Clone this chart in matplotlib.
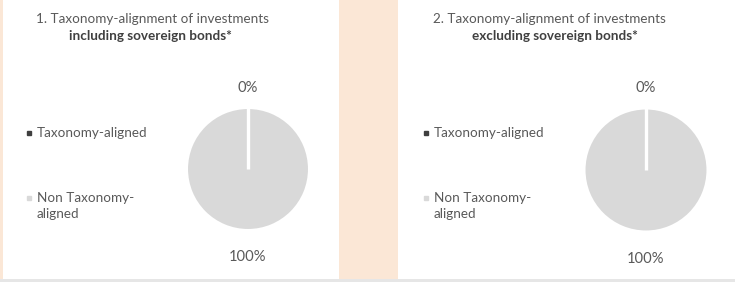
import matplotlib
matplotlib.use("Agg")
import numpy as np
import matplotlib.pyplot as plt
from matplotlib.patches import Rectangle
from matplotlib.lines import Line2D

W, H = 735, 282
categories = ["Taxonomy-aligned", "Non Taxonomy-\naligned"]
incl_values = [0, 100]
excl_values = [0, 100]
pct_labels_incl = ["0%", "100%"]
pct_labels_excl = ["0%", "100%"]
titles = [("1. Taxonomy-alignment of investments", "including sovereign bonds*"),
          ("2. Taxonomy-alignment of investments", "excluding sovereign bonds*")]
colors = ["#3F3F3F", "#D9D9D9"]
text_color = "#595959"
FS = 9.7

plt.rcParams['font.family'] = ['Lato', 'DejaVu Sans']

fig = plt.figure(figsize=(W / 100, H / 100), dpi=100)
fig.patch.set_facecolor("#FBE7D6")

def px(x0, y0, w, h):
    return (x0 / W, 1 - (y0 + h) / H, w / W, h / H)

# white panels
for (x0, x1) in [(3, 339), (398, 735)]:
    l, b, w, h = px(x0, 0, x1 - x0, 279)
    fig.patches.append(Rectangle((l, b), w, h, transform=fig.transFigure,
                                 facecolor="white", edgecolor="none", zorder=-5))
l, b, w, h = px(0, 279, 735, 3)
fig.patches.append(Rectangle((l, b), w, h, transform=fig.transFigure,
                             facecolor="#E6E6E6", edgecolor="none", zorder=-5))

panels = [
    dict(values=incl_values, labels=pct_labels_incl, cx=248, cy=169, r=61.5,
         title_x=152, bold_x=150, leg_x=29),
    dict(values=excl_values, labels=pct_labels_excl, cx=646, cy=170, r=62,
         title_x=549, bold_x=555, leg_x=426),
]

for i, p in enumerate(panels):
    size = 3 * p["r"]
    ax = fig.add_axes(px(p["cx"] - size / 2, p["cy"] - size / 2, size, size))
    ax.patch.set_visible(False)
    wedges, texts = ax.pie(p["values"], labels=p["labels"], colors=colors,
                           startangle=90, counterclock=False, labeldistance=1.36,
                           wedgeprops=dict(edgecolor="white", linewidth=2.2),
                           textprops=dict(color=text_color, fontsize=10.6))
    # slice boundaries (white separators), from data
    vals = np.asarray(p["values"], dtype=float)
    bounds = np.concatenate([[0], np.cumsum(vals)]) / vals.sum()
    for fr in np.unique(np.round(bounds % 1.0, 9)):
        ang = np.deg2rad(90 - 360 * fr)
        ax.plot([0, np.cos(ang) * 1.02], [0, np.sin(ang) * 1.02], color="white",
                lw=2.4, solid_capstyle="butt", zorder=5)
    for t, yd in zip(texts, [1.32, -1.43]):
        t.set_ha("center")
        t.set_va("center")
        t.set_position((0, yd))
    ax.set_xlim(-1.5, 1.5)
    ax.set_ylim(-1.5, 1.5)
    ax.set_aspect("equal")
    ax.axis("off")

    t1, t2 = titles[i]
    fig.text(p["title_x"] / W, 1 - 19 / H, t1, ha="center", va="center",
             color=text_color, fontsize=FS)
    fig.text(p["bold_x"] / W, 1 - 36 / H, t2, ha="center", va="center",
             color="#404040", fontsize=FS, fontweight="bold")

    # legend
    for c, lab, yy in zip(colors, categories, [133, 198]):
        fig.add_artist(Line2D([p["leg_x"] / W], [1 - yy / H], marker="s",
                              markersize=3.5, color=c, linestyle="none",
                              transform=fig.transFigure))
        fig.text((p["leg_x"] + 8) / W, 1 - (yy - 6.5) / H, lab, ha="left", va="top",
                 color=text_color, fontsize=FS, linespacing=1.45)

fig.savefig("out.png", dpi=100, facecolor=fig.get_facecolor())
